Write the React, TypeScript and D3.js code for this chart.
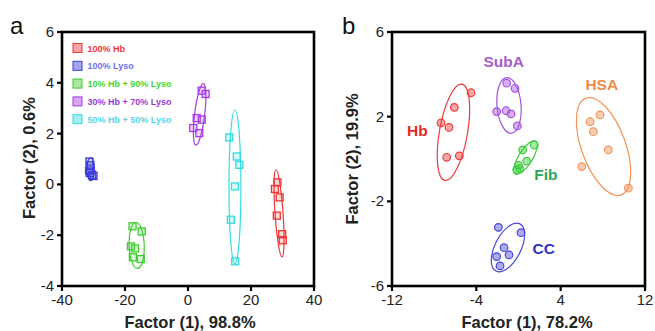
import React from "react";
import * as d3 from "d3";

// ---------- Panel a data ----------
const aSeries = ["100% Hb", "100% Lyso", "10% Hb + 90% Lyso", "30% Hb + 70% Lyso", "50% Hb + 50% Lyso"];
const aColors = ["#ee3535", "#3a3ad8", "#3fcc2e", "#a63ce6", "#35dbe0"];
const aTextColors = ["#ee3535", "#7070e8", "#3fd82e", "#9a3ad8", "#50d8ee"];
const aHb: [number, number][] = [[28.4, 0.08], [27.6, -0.18], [29.1, -0.51], [28.2, -1.23], [29.9, -1.96], [30.1, -2.2]];
const aLyso: [number, number][] = [[-31.3, 0.9], [-31.0, 0.75], [-31.4, 0.55], [-31.2, 0.45], [-30.0, 0.33], [-30.4, 0.38]];
const a10: [number, number][] = [[-17.6, -1.65], [-14.7, -1.85], [-18.1, -2.44], [-16.8, -2.52], [-17.5, -2.87], [-15.0, -2.94]];
const a30: [number, number][] = [[4.35, 3.69], [5.6, 3.56], [2.76, 2.61], [4.35, 2.55], [1.68, 2.22], [3.6, 2.02]];
const a50: [number, number][] = [[13.1, 1.85], [15.5, 1.1], [16.3, 0.77], [14.9, -0.08], [13.6, -1.39], [15.0, -3.03]];
const aPoints = [aHb, aLyso, a10, a30, a50];
// confidence ellipses: [cx, cy, semi-axis x, semi-axis y, rotation deg]
const aEllipses: [number, number, number, number, number][] = [
  [28.9, -1.14, 1.27, 1.72, -4],
  [-30.9, 0.6, 1.2, 0.45, 0],
  [-16.3, -2.4, 2.4, 0.91, -2],
  [3.7, 2.76, 1.6, 1.22, 7],
  [14.9, -0.1, 1.9, 3.03, 0],
];
const aXTicks = [-40, -20, 0, 20, 40];
const aYTicks = [-4, -2, 0, 2, 4, 6];

// ---------- Panel b data ----------
const bSeries = ["Hb", "SubA", "Fib", "HSA", "CC"];
const bColors = ["#ec3a3a", "#a552e0", "#3ccc3c", "#f5935a", "#4848d8"];
const bTextColors = ["#e82828", "#a75cc8", "#2aaa58", "#f08a48", "#3232c8"];
const bHb: [number, number][] = [[-4.5, 3.13], [-6.09, 2.44], [-7.35, 1.71], [-6.59, 1.49], [-6.81, 0.08], [-5.61, 0.15]];
const bSubA: [number, number][] = [[-1.12, 3.58], [-0.33, 3.34], [-2.07, 2.24], [-1.18, 2.28], [-0.71, 2.13], [-0.11, 1.56]];
const bFib: [number, number][] = [[0.4, 0.43], [1.5, 0.66], [0.78, -0.1], [-0.17, -0.5], [0.1, -0.44], [0.0, -0.3]];
const bHSA: [number, number][] = [[7.73, 2.08], [6.79, 1.76], [7.1, 1.29], [8.52, 0.43], [6.0, -0.36], [10.42, -1.38]];
const bCC: [number, number][] = [[-1.91, -3.23], [0.24, -3.48], [-1.37, -4.19], [-2.07, -4.61], [-0.9, -4.53], [-1.75, -5.05]];
const bPoints = [bHb, bSubA, bFib, bHSA, bCC];
const bEllipses: [number, number, number, number, number][] = [
  [-6.17, 1.26, 1.33, 2.31, 10],
  [-0.9, 2.53, 1.14, 1.32, -5],
  [0.67, 0.07, 0.66, 0.92, 32],
  [8.07, 0.59, 2.09, 2.43, -20],
  [-1.0, -4.18, 1.23, 1.25, 27],
];
// label anchor positions in data units
const bLabelPos: [number, number][] = [[-9.6, 1.3], [-1.4, 4.6], [2.6, -0.75], [7.9, 3.5], [2.4, -4.25]];
const bXTicks = [-12, -4, 4, 12];
const bYTicks = [-6, -2, 2, 6];

const FONT = "Liberation Sans, Arial, sans-serif";

function Frame({ x, y, xTicks, yTicks, left, right, top, bottom }: any) {
  return (
    <g>
      <rect x={left} y={top} width={right - left} height={bottom - top} fill="none" stroke="#000" strokeWidth={2.6} />
      {xTicks.map((t: number) => (
        <g key={"x" + t}>
          <line x1={x(t)} x2={x(t)} y1={bottom} y2={bottom + 5} stroke="#000" strokeWidth={2.2} />
          <text x={x(t)} y={bottom + 19} textAnchor="middle" fontSize={15} fontFamily={FONT} fill="#222">{String(t)}</text>
        </g>
      ))}
      {yTicks.map((t: number) => (
        <g key={"y" + t}>
          <line x1={left - 5} x2={left} y1={y(t)} y2={y(t)} stroke="#000" strokeWidth={2.2} />
          <text x={left - 8} y={y(t) + 5} textAnchor="end" fontSize={15} fontFamily={FONT} fill="#222">{String(t)}</text>
        </g>
      ))}
    </g>
  );
}

function Ellipse({ e, x, y, color }: any) {
  const [cx, cy, ax, ay, rot] = e;
  const rx = Math.abs(x(ax) - x(0));
  const ry = Math.abs(y(ay) - y(0));
  return (
    <ellipse cx={0} cy={0} rx={rx} ry={ry} fill="none" stroke={color} strokeWidth={1.2}
      transform={`translate(${x(cx)},${y(cy)}) rotate(${rot})`} />
  );
}

export default function App() {
  // Panel a
  const aL = 62, aR = 314, aT = 32, aB = 286;
  const ax = d3.scaleLinear().domain([-40, 40]).range([aL, aR]);
  const ay = d3.scaleLinear().domain([-4, 6]).range([aB, aT]);
  // Panel b
  const bL = 392, bR = 645, bT = 32, bB = 286;
  const bx = d3.scaleLinear().domain([-12, 12]).range([bL, bR]);
  const by = d3.scaleLinear().domain([-6, 6]).range([bB, bT]);
  const sq = 7;

  return (
    <svg width={655} height={331} style={{ position: "absolute", left: 0, top: 0, background: "#fff" }}>
      <rect width={655} height={331} fill="#fff" />
      {/* Panel a */}
      <text x={10} y={34} fontSize={24} fontFamily={FONT} fill="#111">a</text>
      <Frame x={ax} y={ay} xTicks={aXTicks} yTicks={aYTicks} left={aL} right={aR} top={aT} bottom={aB} />
      {aEllipses.map((e, i) => <Ellipse key={i} e={e} x={ax} y={ay} color={aColors[i]} />)}
      {aPoints.map((pts, i) => (
        <g key={i}>
          {pts.map((p, j) => (
            <rect key={j} x={ax(p[0]) - sq / 2} y={ay(p[1]) - sq / 2} width={sq} height={sq}
              fill={aColors[i]} fillOpacity={0.2} stroke={aColors[i]} strokeWidth={1.3} />
          ))}
        </g>
      ))}
      {aSeries.map((s, i) => (
        <g key={s}>
          <rect x={73} y={43.5 + i * 17.8} width={9} height={9} fill={aColors[i]} fillOpacity={0.45} stroke={aColors[i]} strokeWidth={1} />
          <text x={87.5} y={51.5 + i * 17.8} fontSize={9} fontWeight="bold" fontFamily={FONT} fill={aTextColors[i]}>{s}</text>
        </g>
      ))}
      <text x={190} y={328} textAnchor="middle" fontSize={16.5} fontWeight="bold" fontFamily={FONT} fill="#222">Factor (1), 98.8%</text>
      <text transform="translate(35,158) rotate(-90)" textAnchor="middle" fontSize={16.5} fontWeight="bold" fontFamily={FONT} fill="#222">Factor (2), 0.6%</text>

      {/* Panel b */}
      <text x={342} y={34} fontSize={24} fontFamily={FONT} fill="#111">b</text>
      <Frame x={bx} y={by} xTicks={bXTicks} yTicks={bYTicks} left={bL} right={bR} top={bT} bottom={bB} />
      {bEllipses.map((e, i) => <Ellipse key={i} e={e} x={bx} y={by} color={bColors[i]} />)}
      {bPoints.map((pts, i) => (
        <g key={i}>
          {pts.map((p, j) => (
            <circle key={j} cx={bx(p[0])} cy={by(p[1])} r={3.8}
              fill={bColors[i]} fillOpacity={0.45} stroke={bColors[i]} strokeWidth={1.2} />
          ))}
        </g>
      ))}
      {bSeries.map((s, i) => (
        <text key={s} x={bx(bLabelPos[i][0])} y={by(bLabelPos[i][1]) + 5} textAnchor="middle" fontSize={15.5}
          fontWeight="bold" fontFamily={FONT} fill={bTextColors[i]}>{s}</text>
      ))}
      <text x={527} y={328} textAnchor="middle" fontSize={16.5} fontWeight="bold" fontFamily={FONT} fill="#222">Factor (1), 78.2%</text>
      <text transform="translate(358,159) rotate(-90)" textAnchor="middle" fontSize={16.5} fontWeight="bold" fontFamily={FONT} fill="#222">Factor (2), 19.9%</text>
    </svg>
  );
}
